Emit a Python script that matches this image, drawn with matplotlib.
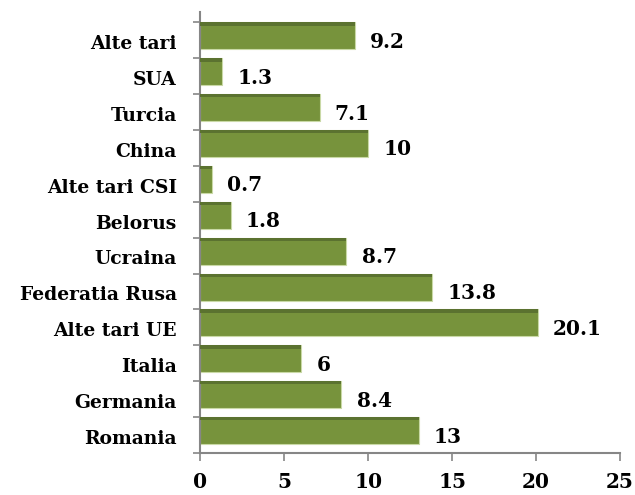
import numpy as np
import matplotlib.pyplot as plt

# data (bottom to top)
countries = ['Romania', 'Germania', 'Italia', 'Alte tari UE', 'Federatia Rusa',
             'Ucraina', 'Belorus', 'Alte tari CSI', 'China', 'Turcia', 'SUA', 'Alte tari']
values = [13, 8.4, 6, 20.1, 13.8, 8.7, 1.8, 0.7, 10, 7.1, 1.3, 9.2]
value_labels = ['13', '8.4', '6', '20.1', '13.8', '8.7', '1.8', '0.7', '10', '7.1', '1.3', '9.2']
xticks = [0, 5, 10, 15, 20, 25]

plt.rcParams['font.family'] = ['DejaVu Serif']
plt.rcParams['font.weight'] = 'bold'

fig = plt.figure(figsize=(6.35, 4.95), dpi=100)
ax = fig.add_axes([0.3157, 0.0848, 0.6607, 0.891])

grey = '#868686'
green = '#77933C'
dark = '#5B7230'

pos = np.arange(len(countries))
bar_h = 0.75
strip = 0.09
# main bar, top edge on the band boundary
ax.barh(pos + 1 - bar_h / 2, values, height=bar_h, color=green,
        edgecolor='#C9D9A6', linewidth=0.8, zorder=2)
# darker top strip
ax.barh(pos + 1 - strip / 2, values, height=strip, color=dark, linewidth=0, zorder=3)

for p, v, lab in zip(pos, values, value_labels):
    ax.text(v + 0.9, p + 0.46, lab, ha='left', va='center', fontsize=14.5,
            fontweight='bold', color='black')

ax.set_xlim(0, 25)
ax.set_ylim(0, 12.29)
ax.set_xticks(xticks)
ax.set_xticklabels([str(t) for t in xticks], fontsize=14.5, fontweight='bold')

ax.set_yticks(np.arange(0, 13))
ax.set_yticklabels([])
ax.set_yticks(pos + 0.45, minor=True)
ax.set_yticklabels(countries, minor=True, fontsize=13.5, fontweight='bold')
ax.tick_params(axis='y', which='minor', length=0, pad=17)
ax.tick_params(axis='y', which='major', length=5, width=1.2, color=grey, direction='out')
ax.tick_params(axis='x', length=6, width=1.2, color=grey, direction='out', pad=8)

for s in ['top', 'right']:
    ax.spines[s].set_visible(False)
for s in ['left', 'bottom']:
    ax.spines[s].set_color(grey)
    ax.spines[s].set_linewidth(1.5)

fig.savefig('out.png', dpi=100)
